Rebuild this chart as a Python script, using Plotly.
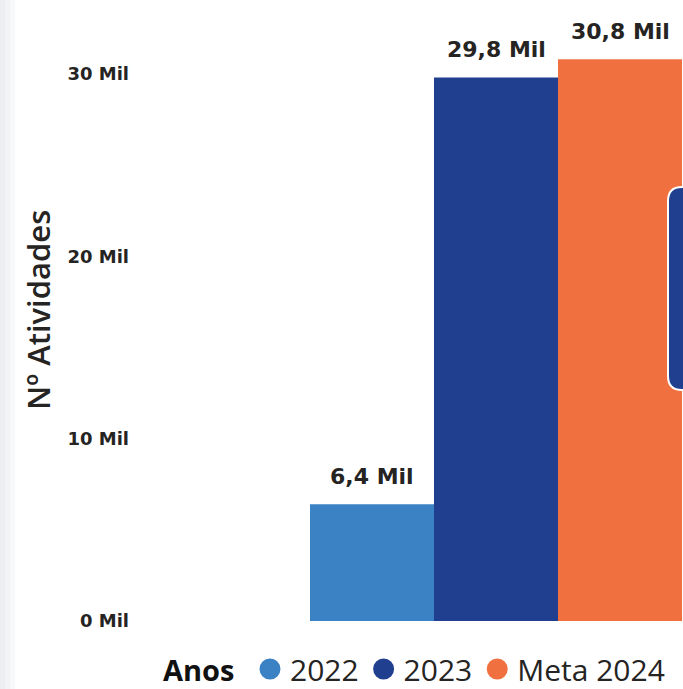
import plotly.graph_objects as go

# ---- data ----
categories = ["2022", "2023", "Meta 2024"]
values_mil = [6.4, 29.8, 30.8]          # Nº Atividades, em milhares
colors = ["#3B82C4", "#213F8F", "#F07040"]
y_ticks = [0, 10, 20, 30]
y_tick_labels = [f"{v} Mil" for v in y_ticks]

W, H = 683, 689
L, R, T, B = 140, 0, 21, 68
PW, PH = W - L - R, H - T - B


def px2x(px):
    return (px - L) / PW


def py2y(py):
    return (H - B - py) / PH


fig = go.Figure()

for i, (cat, v, c) in enumerate(zip(categories, values_mil, colors)):
    fig.add_trace(go.Bar(x=[i], y=[v], width=1, marker=dict(color=c, line=dict(width=0)),
                         name=cat, showlegend=False, hoverinfo="skip"))

for cat, c in zip(categories, colors):
    fig.add_trace(go.Scatter(x=[None], y=[None], mode="markers", name=cat,
                             marker=dict(size=16, color=c, line=dict(width=5, color=c))))

for i, v in enumerate(values_mil):
    fig.add_annotation(x=i, y=v, xref="x", yref="y", text=f"{v:.1f} Mil".replace(".", ","),
                       showarrow=False, yanchor="bottom", yshift=13,
                       font=dict(family="DejaVu Sans", size=22, color="#252423", weight="bold"))

# y axis title
fig.add_annotation(x=px2x(38), y=py2y(310), xref="paper", yref="paper", text="Nº Atividades",
                   textangle=-90, showarrow=False, xanchor="center", yanchor="middle",
                   font=dict(family="Open Sans", size=31, color="#252423", weight=600))

shapes = []
# faint left strip
for x0, x1, col in [(0, 5, "#ECEEF1"), (5, 10, "#F2F3F5"), (10, 15, "#F8F9FA")]:
    shapes.append(dict(type="rect", xref="paper", yref="paper", x0=px2x(x0), x1=px2x(x1),
                       y0=py2y(H), y1=py2y(0), fillcolor=col, line=dict(width=0), layer="below"))

# partially visible dark card on the right
bx0, bx1, by0, by1, r = 668, 720, 187, 390, 14
rx, ry = r / PW, r / PH
X0, X1, Y0, Y1 = px2x(bx0), px2x(bx1), py2y(by0), py2y(by1)
path = (f"M {X0+rx},{Y0} L {X1},{Y0} L {X1},{Y1} L {X0+rx},{Y1} "
        f"Q {X0},{Y1} {X0},{Y1+ry} L {X0},{Y0-ry} Q {X0},{Y0} {X0+rx},{Y0} Z")
shapes.append(dict(type="path", xref="paper", yref="paper", path=path,
                   fillcolor="#213F8F", line=dict(color="#FFFFFF", width=2), layer="above"))

fig.update_layout(
    width=W, height=H,
    margin=dict(l=L, r=R, t=T, b=B, pad=0),
    paper_bgcolor="white", plot_bgcolor="white",
    barmode="overlay",
    shapes=shapes,
    xaxis=dict(range=[-0.5 - 170 / 124, -0.5 - 170 / 124 + PW / 124], visible=False,
               showgrid=False, zeroline=False, fixedrange=True),
    yaxis=dict(range=[0, PH / 18.24], tickmode="array", tickvals=y_ticks, ticktext=y_tick_labels,
               showgrid=False, zeroline=False, showline=False, ticks="",
               ticklabelstandoff=10,
               tickfont=dict(family="DejaVu Sans", size=18, color="#252423", weight="bold")),
    legend=dict(orientation="h", xref="container", yref="container",
                x=161 / W, y=(H - 643) / H, xanchor="left", yanchor="top",
                title=dict(text="Anos\u00a0", side="left",
                           font=dict(family="Open Sans", size=29, color="#111111", weight="bold")),
                font=dict(family="Open Sans", size=30, color="#252423"),
                itemsizing="trace", bgcolor="rgba(0,0,0,0)", borderwidth=0),
    showlegend=True,
)

fig.write_html("out.html", config={"displayModeBar": False},
               post_script="document.body.style.margin='0';document.body.style.overflow='hidden';")
